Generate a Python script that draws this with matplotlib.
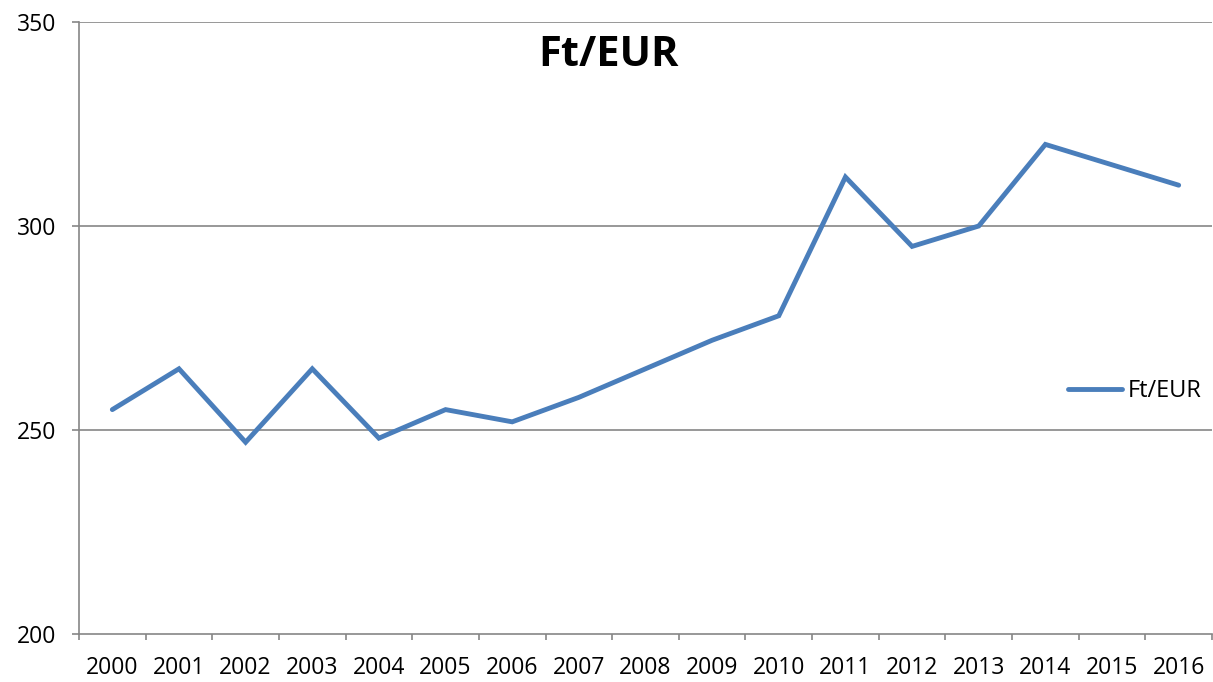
import matplotlib
matplotlib.use("Agg")
import matplotlib.pyplot as plt
import numpy as np

years = ["2000", "2001", "2002", "2003", "2004", "2005", "2006", "2007", "2008",
         "2009", "2010", "2011", "2012", "2013", "2014", "2015", "2016"]
ft_eur = [255, 265, 247, 265, 248, 255, 252, 258, 265, 272, 278, 312, 295, 300, 320, 315, 310]
y_ticks = [200, 250, 300, 350]

plt.rcParams['font.family'] = ['Open Sans', 'DejaVu Sans']

fig = plt.figure(figsize=(12.13, 6.82), dpi=100)
ax = fig.add_axes([79/1213, 1 - 634/682, (1212 - 79)/1213, (634 - 22)/682])

x = np.arange(len(years))
ax.plot(x, ft_eur, color="#4A7EBB", lw=3.5, solid_capstyle="round", solid_joinstyle="miter", label="Ft/EUR")

ax.set_xlim(-0.5, len(years) - 0.5)
ax.set_ylim(200, 350)
ax.set_yticks(y_ticks)
ax.set_yticklabels([str(v) for v in y_ticks], fontsize=16.5)
ax.set_xticks(x)
ax.set_xticklabels(years, fontsize=16.5)
ax.tick_params(axis="x", length=0, pad=16)
ax.set_xticks(np.arange(len(years) + 1) - 0.5, minor=True)
ax.tick_params(axis="x", which="minor", length=4.3, width=1.2, color="#868686")
ax.tick_params(axis="y", length=5, width=1.2, color="#868686", pad=11.5)

for v in y_ticks[1:]:
    ax.axhline(v, color="#868686", lw=1.2, zorder=0)

for s in ["top", "right"]:
    ax.spines[s].set_visible(False)
for s in ["left", "bottom"]:
    ax.spines[s].set_color("#868686")
    ax.spines[s].set_linewidth(1.2)

fig.text(609/1213, 1 - 55/682, "Ft/EUR", fontsize=30, fontweight="bold", ha="center", va="center")

leg = ax.legend(loc="center left", frameon=False,
                fontsize=17, handlelength=2.3, handletextpad=0.25, borderaxespad=0, borderpad=0)
leg.set_bbox_to_anchor((1068/1213, 1 - 391/682), transform=fig.transFigure)

fig.savefig("out.png", dpi=100)
